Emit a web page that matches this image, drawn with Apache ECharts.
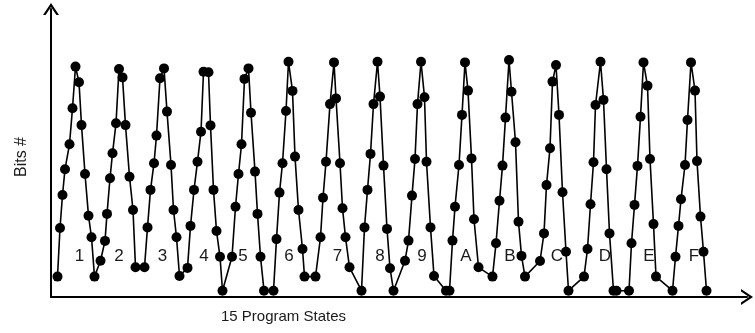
<!DOCTYPE html>
<html>
<head>
<meta charset="utf-8">
<script src="https://cdn.jsdelivr.net/npm/echarts@6/dist/echarts.min.js"></script>
<style>
html,body{margin:0;padding:0;background:#fff;}
#chart{width:755px;height:333px;}
</style>
</head>
<body>
<div id="chart"></div>
<script>
// Sample positions (time units) and bit counts
const xValues = [
  1.3,1.8,2.3,2.8,3.7,4.3,4.9,5.6,6.1,6.8,7.5,8.1,8.7,
  9.9,10.8,11.2,11.8,12.3,13.0,13.6,14.3,14.9,15.7,16.4,16.9,
  18.7,19.3,19.9,20.6,21.1,21.8,22.6,23.2,24.0,24.5,25.1,25.7,
  27.3,27.9,28.6,29.3,30.0,30.5,31.5,31.9,32.5,33.1,33.8,34.3,
  36.2,36.9,37.5,38.1,38.7,39.5,40.0,40.8,41.3,41.9,42.6,
  44.5,45.1,45.7,46.3,47.0,47.5,48.3,48.8,49.5,50.3,50.7,
  52.9,53.9,54.4,55.0,55.8,56.6,57.0,57.8,58.3,58.9,59.7,
  62.1,62.7,63.3,63.9,64.5,65.3,65.8,66.5,67.2,67.8,68.5,
  70.8,71.5,72.2,72.8,73.3,74.0,74.7,75.1,75.9,76.6,
  79.0,79.7,80.3,80.8,81.6,82.2,82.8,83.4,84.1,84.6,85.5,
  88.3,89.0,89.7,90.3,90.9,91.6,92.1,92.9,93.5,94.1,94.8,
  97.8,98.6,99.1,99.8,100.3,101.0,101.6,102.3,103.0,103.5,
  106.6,107.3,107.9,108.5,108.9,109.9,110.5,111.1,111.7,112.5,
  113.1,115.6,116.1,116.7,117.3,117.9,118.5,119.3,119.8,120.5,121.0,
  124.3,124.9,125.5,126.0,126.8,127.3,128.0,128.8,129.2,129.9,130.5,131.1
];
const bitValues = [
  6.8,23.0,34.0,42.6,50.9,62.9,76.8,71.6,57.3,41.0,27.1,19.9,6.8,
  12.1,18.7,27.7,39.6,47.9,57.9,76.0,73.2,57.3,40.1,29.0,9.9,
  9.9,23.2,35.7,44.6,53.8,72.9,76.2,61.8,44.0,29.0,19.9,7.0,
  9.7,23.7,35.7,45.1,55.1,75.1,74.9,57.2,35.7,22.0,13.4,2.1,
  13.4,30.1,41.0,50.9,72.7,76.2,61.4,41.8,27.7,13.4,2.1,
  2.1,19.3,34.8,44.6,62.0,78.4,68.7,46.8,29.0,16.0,6.8,
  6.8,19.9,33.1,45.1,64.3,78.2,66.2,44.6,29.6,19.9,9.9,
  2.1,23.2,35.7,47.7,64.3,78.4,66.8,43.8,22.7,9.6,2.1,
  12.1,18.8,33.8,46.0,64.3,78.4,66.6,45.1,23.2,7.0,
  2.1,2.1,18.8,30.1,44.0,60.7,78.2,68.8,46.2,25.9,9.9,
  6.8,17.9,32.1,43.8,59.8,79.0,68.4,51.6,25.1,13.7,6.8,
  12.0,21.2,37.3,49.6,71.8,77.3,60.7,34.9,15.1,2.1,
  6.8,16.0,30.9,44.9,64.0,78.4,65.7,42.6,21.2,2.1,
  2.1,2.1,17.9,30.7,43.7,60.1,78.2,70.4,46.0,24.3,6.8,
  2.1,13.4,23.7,32.6,44.0,59.0,78.2,68.8,45.3,26.8,15.1,2.1
];
// Program state labels
const stateNames = ['1','2','3','4','5','6','7','8','9','A','B','C','D','E','F'];
const stateX = [5.7,13.6,22.3,30.6,38.4,47.6,57.3,65.8,74.2,83.0,91.8,101.2,110.8,119.6,128.6];
const stateY = 13.7;

const lineData = xValues.map((x, i) => [x, bitValues[i]]);
const labelData = stateNames.map((n, i) => ({ value: [stateX[i], stateY], name: n }));

const chevron = 'path://M0,12 L8,0 L16,12 L13.4,12 L8,3.9 L2.6,12 Z';
const FONT = '"Liberation Sans", Arial, sans-serif';

const chart = echarts.init(document.getElementById('chart'), null, { renderer: 'canvas' });
chart.setOption({
  animation: false,
  backgroundColor: '#fff',
  grid: { left: 51, right: 8, top: 9, bottom: 36 },
  xAxis: {
    type: 'value', min: 0, max: 139.2,
    axisLine: { show: true, onZero: false, lineStyle: { color: '#000', width: 2 },
      symbol: ['none', chevron], symbolSize: [16, 12] },
    axisTick: { show: false }, axisLabel: { show: false }, splitLine: { show: false }
  },
  yAxis: {
    type: 'value', min: 0, max: 96,
    axisLine: { show: true, onZero: false, lineStyle: { color: '#000', width: 2 },
      symbol: ['none', chevron], symbolSize: [16, 12] },
    axisTick: { show: false }, axisLabel: { show: false }, splitLine: { show: false }
  },
  graphic: [
    { type: 'text', left: 221, top: 309,
      style: { text: '15 Program States', font: '15px ' + FONT, fill: '#1a1a1a' } },
    { type: 'text', x: 22, y: 157, rotation: Math.PI / 2,
      style: { text: 'Bits #', font: '16px ' + FONT, fill: '#1a1a1a',
        textAlign: 'center', textVerticalAlign: 'middle' } }
  ],
  series: [
    {
      type: 'line', data: lineData, symbol: 'circle', symbolSize: 10,
      showAllSymbol: true, clip: false,
      lineStyle: { color: '#000', width: 1.6 },
      itemStyle: { color: '#000' }
    },
    {
      type: 'scatter', data: labelData, symbolSize: 0, silent: true,
      itemStyle: { opacity: 1, color: '#000' },
      label: { show: true, position: 'inside', formatter: p => p.name,
        color: '#1a1a1a', fontSize: 17, fontFamily: FONT,
        textBorderWidth: 0, opacity: 1 }
    }
  ]
});
</script>
</body>
</html>
